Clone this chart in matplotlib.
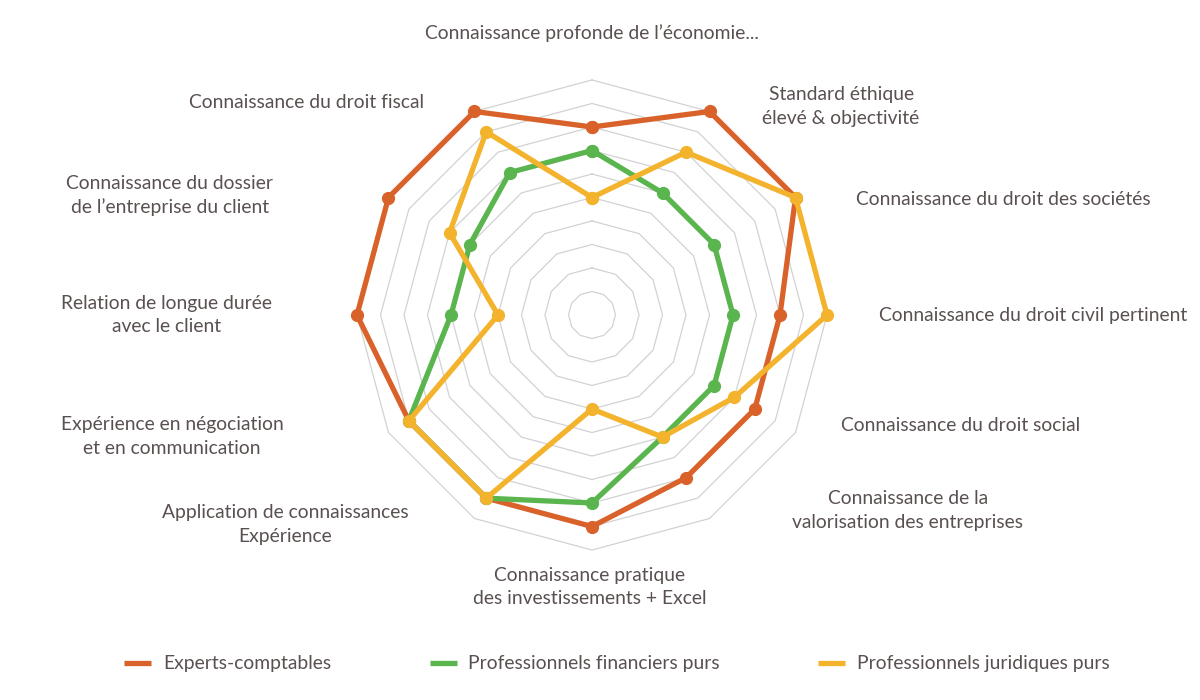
import numpy as np
import matplotlib
matplotlib.use("Agg")
import matplotlib.pyplot as plt
from matplotlib.lines import Line2D

categories = [
    "Connaissance profonde de l’économie...",
    "Standard éthique\nélevé & objectivité",
    "Connaissance du droit des sociétés",
    "Connaissance du droit civil pertinent",
    "Connaissance du droit social",
    "Connaissance de la\nvalorisation des entreprises",
    "Connaissance pratique\ndes investissements + Excel",
    "Application de connaissances\nExpérience",
    "Expérience en négociation\net en communication",
    "Relation de longue durée\navec le client",
    "Connaissance du dossier\nde l’entreprise du client",
    "Connaissance du droit fiscal",
]
series_names = ["Experts-comptables", "Professionnels financiers purs", "Professionnels juridiques purs"]
experts = [8, 10, 10, 8, 8, 8, 9, 9, 9, 10, 10, 10]
financiers = [7, 6, 6, 6, 6, 6, 8, 9, 9, 6, 6, 7]
juridiques = [5, 8, 10, 10, 7, 6, 4, 9, 9, 4, 7, 9]

colors = ["#D9622B", "#5AB54E", "#F3B32D"]
text_color = "#5a5050"
grid_color = "#d2d2d2"

plt.rcParams['font.family'] = ['Lato', 'DejaVu Sans']
FS = 13.9

fig = plt.figure(figsize=(12, 7), dpi=100)
W, H = 1200, 700
cx, cy, R = 592, 315, 235
ax = fig.add_axes([(cx - R) / W, (H - cy - R) / H, 2 * R / W, 2 * R / H], projection='polar')
ax.set_theta_zero_location('N')
ax.set_theta_direction(-1)
ax.set_ylim(0, 10)
ax.grid(False)
ax.set_xticks([])
ax.set_yticks([])
ax.spines['polar'].set_visible(False)
ax.patch.set_alpha(0)

n = len(categories)
angles = np.arange(n) * 2 * np.pi / n
ang_closed = np.append(angles, angles[0])

for k in range(1, 11):
    ax.plot(ang_closed, [k] * (n + 1), color=grid_color, lw=0.9, zorder=1, clip_on=False)

for i, vals in enumerate([experts, financiers, juridiques]):
    v = np.append(vals, vals[0])
    ax.plot(ang_closed, v, color=colors[i], lw=3.8, marker='o', markersize=8.5,
            zorder=3 + i, clip_on=False, solid_joinstyle='round')

# label offsets (pixels) from the outer ring vertex
offsets = [(0, -47, 'center'), (53, -5, 'left'), (60, 2, 'left'), (52, 0, 'left'),
           (45, -7, 'left'), (83, -8, 'left'), (-2, 37, 'center'), (-66, 6, 'right'),
           (-105, 4, 'right'), (-85, 0, 'right'), (-115, -2, 'right'), (-50, -9, 'right')]
for ang, lab, (dx, dy, ha) in zip(angles, categories, offsets):
    ax.annotate(lab, xy=(ang, 10), xytext=(dx * 0.72, -dy * 0.72), textcoords='offset points',
                ha=ha, va='center', multialignment='center', fontsize=FS,
                color=text_color, linespacing=1.45, annotation_clip=False)

handles = [Line2D([0], [0], color=c, lw=3.8, solid_capstyle='butt') for c in colors]
fig.legend(handles, series_names, loc='center', bbox_to_anchor=(617 / W, 1 - 664 / H),
           ncol=3, frameon=False, fontsize=FS, handlelength=1.4, handletextpad=0.6,
           columnspacing=5.1, labelcolor=text_color)

fig.savefig("out.png", dpi=100)
